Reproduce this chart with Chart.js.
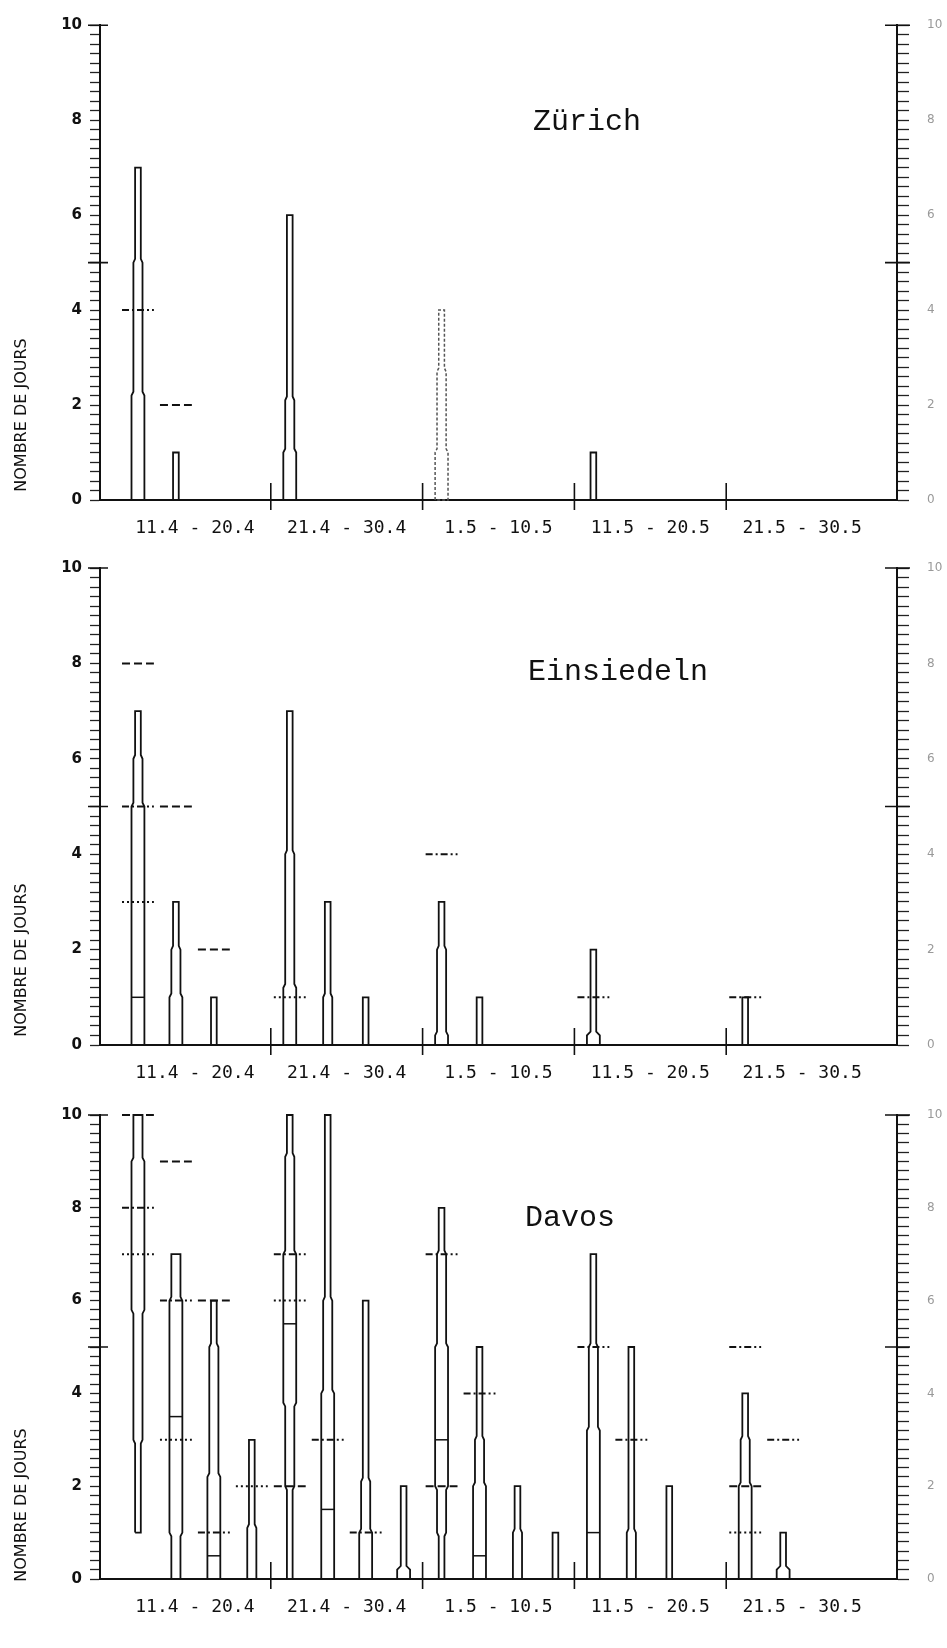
<!DOCTYPE html>
<html>
<head>
<meta charset="utf-8">
<script src="https://cdn.jsdelivr.net/npm/chart.js@4.4.1/dist/chart.umd.min.js"></script>
<style>
	body { margin: 0; background: #fff; }
	#wrap { position: relative; width: 947px; height: 1648px; overflow: hidden; }
	.panel { position: absolute; left: 0; width: 947px; }
	.panel canvas { display: block; }
	.station { position: absolute; font-family: 'Liberation Mono', monospace; font-size: 30px; line-height: 30px; color: #111; white-space: nowrap; }
	.ylab { position: absolute; left: 20px; font-family: 'DejaVu Sans', sans-serif; font-size: 16px; color: #111; white-space: nowrap; transform: translate(-50%, -50%) rotate(-90deg); }
</style>
</head>
<body>
<div id="wrap">
	<div class="panel" style="top:0px"><canvas id="chart-0" width="947" height="540"></canvas></div>
	<div class="panel" style="top:540px"><canvas id="chart-1" width="947" height="545"></canvas></div>
	<div class="panel" style="top:1085px"><canvas id="chart-2" width="947" height="563"></canvas></div>
	<div class="station" style="left:533px;top:107px">Zürich</div>
	<div class="station" style="left:528px;top:657px">Einsiedeln</div>
	<div class="station" style="left:525px;top:1203px">Davos</div>
	<div class="ylab" style="top:415px">NOMBRE DE JOURS</div>
	<div class="ylab" style="top:960px">NOMBRE DE JOURS</div>
	<div class="ylab" style="top:1505px">NOMBRE DE JOURS</div>
</div>
<script>
const periodLabels = ['11.4 - 20.4', '21.4 - 30.4', '1.5 - 10.5', '11.5 - 20.5', '21.5 - 30.5'];
const periodCenters = [2, 6, 10, 14, 18];
const periodBounds = [4, 8, 12, 16];

// [slot, min, p10, p25, median, p75, p90, max]
const zurichBoxes = [
	[0, 0, 0, 0, null, 2.2, 5, 7],
	[1, 0, 0, 0, null, 0, 0, 1],
	[4, 0, 0, 0, null, 1, 2.1, 6],
	[8, 0, 0, 0, null, 1, 2.7, 4],
	[12, 0, 0, 0, null, 0, 0, 1],
];
const einsiedelnBoxes = [
	[0, 0, 0, 0, 1, 5, 6, 7],
	[1, 0, 0, 0, null, 1, 2, 3],
	[2, 0, 0, 0, null, 0, 0, 1],
	[4, 0, 0, 0, null, 1.2, 4, 7],
	[5, 0, 0, 0, null, 0, 1, 3],
	[6, 0, 0, 0, null, 0, 0, 1],
	[8, 0, 0, 0, null, 0.2, 2, 3],
	[9, 0, 0, 0, null, 0, 0, 1],
	[12, 0, 0, 0, null, 0.2, 0.2, 2],
	[16, 0, 0, 0, null, 0, 0, 1],
];
const davosBoxes = [
	[0, 1, 3, 5.8, null, 9, 10, 10],
	[1, 0, 0, 1, 3.5, 6, 7, 7],
	[2, 0, 0, 0, 0.5, 2.2, 5, 6],
	[3, 0, 0, 0, null, 0, 1.1, 3],
	[4, 0, 2, 3.8, 5.5, 7, 9.1, 10],
	[5, 0, 0, 0, 1.5, 4, 6, 10],
	[6, 0, 0, 0, null, 1, 2.1, 6],
	[7, 0, 0, 0, null, 0.2, 0.2, 2],
	[8, 0, 1, 2, 3, 5, 7, 8],
	[9, 0, 0, 0, 0.5, 2, 3, 5],
	[10, 0, 0, 0, null, 0, 1, 2],
	[11, 0, 0, 0, null, 0, 0, 1],
	[12, 0, 0, 0, 1, 3.2, 5, 7],
	[13, 0, 0, 0, null, 0, 1, 5],
	[14, 0, 0, 0, null, 0, 0, 2],
	[16, 0, 0, 0, null, 2, 3, 4],
	[17, 0, 0, 0, null, 0.2, 0.2, 1],
];

// reference marks: [slot, value]
const zurichDashed = [[1, 2]];
const zurichDashDot = [[0, 4]];
const zurichDotted = [];
const einsiedelnDashed = [[0, 8], [1, 5], [2, 2]];
const einsiedelnDashDot = [[0, 5], [8, 4], [12, 1], [16, 1]];
const einsiedelnDotted = [[0, 3], [4, 1]];
const davosDashed = [[0, 10], [1, 9], [2, 6], [4, 2], [8, 2], [16, 2]];
const davosDashDot = [[0, 8], [1, 6], [2, 1], [4, 7], [5, 3], [6, 1], [8, 7], [9, 4], [12, 5], [13, 3], [16, 5], [17, 3]];
const davosDotted = [[0, 7], [1, 3], [3, 2], [4, 6], [16, 1]];

const panels = [
	{ boxes: zurichBoxes, dashed: zurichDashed, dashDot: zurichDashDot, dotted: zurichDotted, padTop: 23, axisH: 40, faint: [8] },
	{ boxes: einsiedelnBoxes, dashed: einsiedelnDashed, dashDot: einsiedelnDashDot, dotted: einsiedelnDotted, padTop: 28, axisH: 40, faint: [] },
	{ boxes: davosBoxes, dashed: davosDashed, dashDot: davosDashDot, dotted: davosDotted, padTop: 30, axisH: 69, faint: [] },
];

const HALF = { narrow: 0.075, medium: 0.12, wide: 0.17 };
const CHAMFER = 0.08;
const REF_HALF = 0.42;
const INK = '#111';

Chart.defaults.font.family = 'DejaVu Sans';
Chart.defaults.color = INK;

function slotX(slot) {
	return slot + 0.5;
}

function towerOutline(box) {
	const [slot, mn, p10, p25, med, p75, p90, mx] = box;
	const x = slotX(slot);
	const segs = [
		[mn, p10, HALF.narrow], [p10, p25, HALF.medium], [p25, p75, HALF.wide],
		[p75, p90, HALF.medium], [p90, mx, HALF.narrow]
	].filter(s => s[1] > s[0]);
	const merged = [];
	segs.forEach(s => {
		const last = merged[merged.length - 1];
		if (last && last[2] === s[2]) last[1] = s[1];
		else merged.push(s.slice());
	});
	const left = [];
	merged.forEach((s, i) => {
		const prev = merged[i - 1], next = merged[i + 1];
		const ch = Math.min(CHAMFER, (s[1] - s[0]) / 3);
		let lo = s[0], hi = s[1];
		if (prev && prev[2] > s[2]) lo += ch;
		if (next && next[2] > s[2]) hi -= ch;
		left.push([s[2], lo], [s[2], hi]);
	});
	const pts = left.map(p => ({ x: x - p[0], y: p[1] }));
	for (let i = left.length - 1; i >= 0; i--) pts.push({ x: x + left[i][0], y: left[i][1] });
	pts.push({ x: x - left[0][0], y: left[0][1] });
	return pts;
}

function lineSet(data, extra) {
	return Object.assign({
		type: 'line', data: data, borderColor: INK, borderWidth: 1.8,
		pointRadius: 0, fill: false, tension: 0, clip: false
	}, extra || {});
}

function refSets(list, dash) {
	return list.map(r => lineSet([
		{ x: slotX(r[0]) - REF_HALF, y: r[1] }, { x: slotX(r[0]) + REF_HALF, y: r[1] }
	], { borderDash: dash, borderWidth: 2 }));
}

const minorTicks = [];
for (let i = 0; i <= 50; i++) minorTicks.push(i / 5);

function evenLabel(v) {
	const r = Math.round(v);
	return (Math.abs(v - r) < 1e-6 && r % 2 === 0) ? String(r) : '';
}

const axisMarks = {
	id: 'axisMarks',
	afterDraw(chart) {
		const ctx = chart.ctx;
		const xs = chart.scales.x, ys = chart.scales.y;
		const area = chart.chartArea;
		const base = ys.getPixelForValue(0);
		ctx.save();
		ctx.strokeStyle = INK;
		ctx.lineWidth = 1.6;
		periodBounds.forEach(b => {
			const px = xs.getPixelForValue(b);
			ctx.beginPath();
			ctx.moveTo(px, base - 17);
			ctx.lineTo(px, base + 10);
			ctx.stroke();
		});
		[5, 10].forEach(v => {
			const py = ys.getPixelForValue(v);
			ctx.beginPath();
			ctx.moveTo(area.left - 12, py);
			ctx.lineTo(area.left + 8, py);
			ctx.moveTo(area.right - 12, py);
			ctx.lineTo(area.right + 13, py);
			ctx.stroke();
		});
		ctx.restore();
	}
};

function buildChart(index) {
	const p = panels[index];
	const datasets = [];
	p.boxes.forEach(b => {
		const faint = p.faint.includes(b[0]);
		datasets.push(lineSet(towerOutline(b), faint ? { borderColor: '#555', borderDash: [3, 2], borderWidth: 1.5 } : {}));
		if (b[4] !== null) {
			const x = slotX(b[0]);
			datasets.push(lineSet([{ x: x - HALF.wide, y: b[4] }, { x: x + HALF.wide, y: b[4] }], { borderWidth: 1.5 }));
		}
	});
	datasets.push(...refSets(p.dashed, [8, 4]));
	datasets.push(...refSets(p.dashDot, [7, 3, 2, 3]));
	datasets.push(...refSets(p.dotted, [2, 3]));

	const yTicks = s => { s.ticks = minorTicks.map(v => ({ value: v })); };
	return new Chart(document.getElementById('chart-' + index), {
		type: 'line',
		data: { datasets: datasets },
		options: {
			responsive: false,
			animation: false,
			events: [],
			layout: { padding: { top: p.padTop, left: 0, right: 0, bottom: 0 } },
			plugins: { legend: { display: false }, tooltip: { enabled: false } },
			scales: {
				x: {
					type: 'linear', min: -0.5, max: 20.5,
					afterBuildTicks: s => { s.ticks = periodCenters.map(v => ({ value: v })); },
					afterFit: s => { s.height = p.axisH; },
					ticks: {
						autoSkip: false, maxRotation: 0, padding: 10, color: INK,
						font: { family: 'DejaVu Sans Mono', size: 18 },
						callback: (v, i) => periodLabels[i]
					},
					grid: { display: false },
					border: { color: INK, width: 2 }
				},
				y: {
					axis: 'y', position: 'left', min: 0, max: 10,
					afterBuildTicks: yTicks,
					afterFit: s => { s.width = 100; },
					ticks: { autoSkip: false, padding: 8, color: INK, font: { size: 15, weight: 'bold' }, callback: evenLabel },
					grid: { drawOnChartArea: false, tickLength: 10, tickColor: '#222', tickWidth: 1.3 },
					border: { color: INK, width: 2 }
				},
				y2: {
					axis: 'y', position: 'right', min: 0, max: 10,
					afterBuildTicks: yTicks,
					afterFit: s => { s.width = 50; },
					ticks: { autoSkip: false, padding: 18, color: '#999', font: { size: 12 }, callback: evenLabel },
					grid: { drawOnChartArea: false, tickLength: 12, tickColor: '#222', tickWidth: 1.3 },
					border: { color: INK, width: 2 }
				}
			}
		},
		plugins: [axisMarks]
	});
}

panels.forEach((p, i) => buildChart(i));
</script>
</body>
</html>
